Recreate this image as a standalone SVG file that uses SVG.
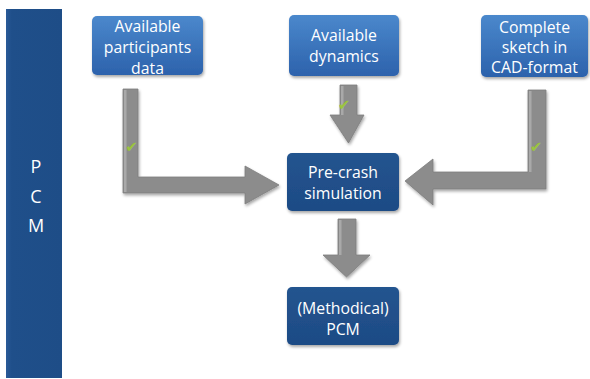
<svg xmlns="http://www.w3.org/2000/svg" width="590" height="379" viewBox="0 0 590 379">
  <defs>
    <linearGradient id="topBox" x1="0" y1="0" x2="0" y2="1">
      <stop offset="0" stop-color="#4B88CC"/>
      <stop offset="1" stop-color="#2C62AC"/>
    </linearGradient>
    <linearGradient id="darkBox" x1="0" y1="0" x2="0" y2="1">
      <stop offset="0" stop-color="#24548F"/>
      <stop offset="1" stop-color="#1D4B85"/>
    </linearGradient>
    <linearGradient id="bar" x1="0" y1="0" x2="1" y2="0">
      <stop offset="0" stop-color="#2A5A98"/>
      <stop offset="0.1" stop-color="#1F4F8A"/>
      <stop offset="1" stop-color="#1E4D87"/>
    </linearGradient>
    <filter id="shadow" x="-10%" y="-10%" width="130%" height="130%">
      <feGaussianBlur in="SourceAlpha" stdDeviation="1.5"/>
      <feOffset dx="1" dy="2" result="b"/>
      <feComponentTransfer><feFuncA type="linear" slope="0.35"/></feComponentTransfer>
      <feMerge><feMergeNode/><feMergeNode in="SourceGraphic"/></feMerge>
    </filter>
  </defs>
  <style>
    .box { stroke: none; filter: url(#shadow); }
    .top { fill: url(#topBox); }
    .dark { fill: url(#darkBox); }
    .lbl { font-family: "Open Sans", "Noto Sans", sans-serif; font-size: 15.8px; fill: #FFFFFF; text-anchor: middle; }
    .side { font-family: "Open Sans", "Noto Sans", sans-serif; font-size: 18px; fill: #FFFFFF; text-anchor: middle; }
    .arrow { fill: #8C8C8C; stroke: #7E7E7E; stroke-width: 0.8; filter: url(#shadow); }
    .hl { fill: #A9A9A9; }
    .chk { font-family: "DejaVu Sans", sans-serif; font-size: 15px; fill: #9BC43F; text-anchor: middle; }
  </style>

  <g id="pcm-bar">
    <rect x="6" y="9" width="56" height="369" fill="url(#bar)"/>
    <text class="side" x="36" y="173">P</text>
    <text class="side" x="36" y="203">C</text>
    <text class="side" x="36" y="232">M</text>
  </g>

  <g id="connectors">
    <g id="arrow-participants">
      <polygon class="arrow" points="123,89 138,89 138,177 245,177 245,166 279,185 245,204 245,193 123,193"/>
      <rect class="hl" x="124" y="90" width="2.5" height="102"/>
      <text class="chk" x="131.5" y="152">✔</text>
    </g>
    <g id="arrow-dynamics">
      <polygon class="arrow" points="340,85 357,85 357,115 364,115 348.5,143 330,115 340,115"/>
      <rect class="hl" x="341" y="86" width="2.5" height="29"/>
      <text class="chk" x="344" y="110">✔</text>
    </g>
    <g id="arrow-sketch">
      <polygon class="arrow" points="528,90 546,90 546,189 433,189 433,205 405,181 433,159 433,172 528,172"/>
      <rect class="hl" x="529" y="91" width="2.5" height="81"/>
      <text class="chk" x="536" y="152">✔</text>
    </g>
    <g id="arrow-precrash-pcm">
      <polygon class="arrow" points="338,219 356,219 356,255 370,255 346.5,277 323,255 338,255"/>
      <rect class="hl" x="339" y="220" width="2.5" height="35"/>
    </g>
  </g>

  <g id="node-participants">
    <rect class="box top" x="92" y="16" width="111" height="59" rx="5"/>
    <text class="lbl" x="147.5" y="32">Available</text>
    <text class="lbl" x="147.5" y="53">participants</text>
    <text class="lbl" x="147.5" y="74">data</text>
  </g>
  <g id="node-dynamics">
    <rect class="box top" x="289" y="15" width="110" height="61" rx="5"/>
    <text class="lbl" x="344" y="41">Available</text>
    <text class="lbl" x="344" y="62">dynamics</text>
  </g>
  <g id="node-sketch">
    <rect class="box top" x="481" y="15" width="107" height="62" rx="5"/>
    <text class="lbl" x="534.5" y="33">Complete</text>
    <text class="lbl" x="534.5" y="53">sketch in</text>
    <text class="lbl" x="534.5" y="73">CAD-format</text>
  </g>
  <g id="node-precrash">
    <rect class="box dark" x="287" y="153" width="112" height="58" rx="5"/>
    <text class="lbl" x="343" y="178">Pre-crash</text>
    <text class="lbl" x="343" y="199">simulation</text>
  </g>
  <g id="node-methodical">
    <rect class="box dark" x="287" y="287" width="112" height="58" rx="5"/>
    <text class="lbl" x="343" y="313.5">(Methodical)</text>
    <text class="lbl" x="343" y="335">PCM</text>
  </g>
</svg>
